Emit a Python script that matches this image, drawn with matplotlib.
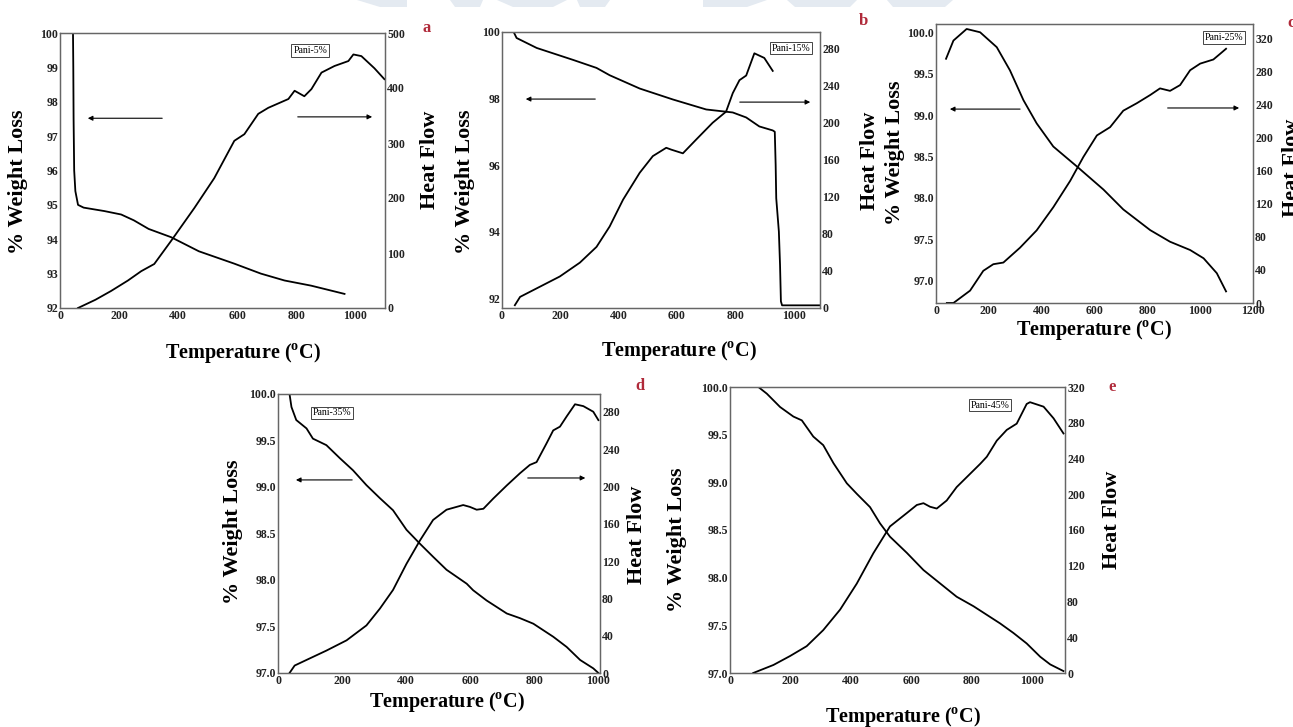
import matplotlib.pyplot as plt
from matplotlib.patches import Polygon

# ---------------- data ----------------
# panel a  (Pani-5%)
wa_T = [44, 45, 46, 48, 52, 61, 80, 150, 207, 250, 300, 376, 470, 590, 680, 760, 850, 963]
wa_W = [100, 99.0, 97.5, 96.0, 95.4, 95.0, 94.92, 94.82, 94.72, 94.55, 94.3, 94.06, 93.65, 93.29, 93.0, 92.8, 92.65, 92.41]
ha_T = [61, 120, 173, 230, 275, 319, 376, 455, 522, 590, 624, 671, 705, 773, 794, 827, 851, 885, 929, 976, 993, 1020, 1064, 1098]
ha_H = [0, 15, 31, 50, 67, 80, 122, 182, 236, 304, 316, 353, 364, 380, 395, 385, 398, 428, 440, 449, 461, 458, 436, 416]

# panel b  (Pani-15%)
wb_T = [40, 50, 119, 244, 324, 369, 472, 586, 700, 791, 837, 882, 928, 935, 938, 940, 949, 953, 956, 960, 1090]
wb_W = [100, 99.82, 99.52, 99.16, 98.92, 98.7, 98.3, 97.97, 97.67, 97.58, 97.43, 97.16, 97.04, 97.0, 96.0, 95.0, 94.0, 93.0, 91.9, 91.78, 91.78]
hb_T = [44, 62, 130, 198, 267, 324, 369, 415, 472, 517, 563, 580, 620, 666, 722, 768, 791, 814, 837, 865, 899, 928]
hb_H = [3, 12, 23, 34, 49, 66, 88, 117, 146, 164, 173, 171, 167, 182, 200, 212, 232, 246, 251, 275, 270, 256]

# panel c  (Pani-25%)
wc_T = [38, 66, 116, 167, 230, 280, 331, 381, 444, 533, 634, 709, 811, 886, 962, 1013, 1063, 1098]
wc_W = [99.68, 99.9, 100.04, 100.0, 99.82, 99.54, 99.18, 98.9, 98.62, 98.38, 98.1, 97.86, 97.61, 97.47, 97.37, 97.27, 97.09, 96.87]
hc_T = [41, 66, 129, 179, 217, 255, 318, 381, 444, 508, 558, 609, 659, 709, 760, 811, 848, 886, 924, 962, 1000, 1050, 1076, 1098]
hc_H = [0, 0, 15, 39, 47, 49, 67, 88, 116, 148, 177, 203, 213, 233, 242, 252, 260, 257, 264, 282, 290, 295, 302, 308]

# panel d  (Pani-35%)
wd_T = [36, 42, 57, 89, 109, 151, 193, 234, 276, 318, 359, 401, 443, 484, 526, 589, 609, 651, 714, 755, 797, 859, 901, 943, 984, 1000]
wd_W = [100, 99.86, 99.72, 99.63, 99.52, 99.45, 99.31, 99.18, 99.02, 98.88, 98.75, 98.54, 98.39, 98.25, 98.11, 97.96, 97.89, 97.78, 97.64, 97.59, 97.53, 97.39, 97.28, 97.14, 97.05, 97.0]
hd_T = [36, 52, 89, 151, 214, 276, 318, 359, 401, 443, 484, 526, 578, 599, 620, 641, 672, 714, 755, 786, 807, 838, 859, 880, 901, 927, 953, 984, 1000]
hd_H = [0, 8, 14, 24, 35, 51, 69, 89, 117, 142, 164, 175, 180, 178, 175, 176, 187, 201, 214, 223, 226, 246, 260, 264, 275, 288, 286, 280, 271]

# panel e  (Pani-45%)
we_T = [94, 122, 166, 210, 238, 276, 309, 343, 387, 420, 464, 497, 530, 586, 641, 696, 751, 807, 851, 895, 939, 983, 1028, 1061, 1105]
we_W = [100, 99.93, 99.79, 99.69, 99.65, 99.48, 99.39, 99.2, 98.99, 98.88, 98.74, 98.57, 98.43, 98.26, 98.08, 97.94, 97.8, 97.7, 97.61, 97.52, 97.42, 97.31, 97.17, 97.09, 97.02]
he_T = [77, 144, 199, 254, 309, 365, 420, 475, 530, 586, 619, 641, 663, 685, 718, 751, 796, 829, 851, 884, 917, 950, 983, 994, 1039, 1072, 1105]
he_H = [0, 9, 19, 30, 48, 71, 100, 134, 164, 179, 188, 190, 186, 184, 193, 208, 223, 234, 242, 260, 272, 279, 301, 303, 298, 285, 268]

sample_names = ['Pani-5%', 'Pani-15%', 'Pani-25%', 'Pani-35%', 'Pani-45%']
panel_letters = ['a', 'b', 'c', 'd', 'e']

W, H = 1293, 727
plt.rcParams['font.family'] = ['Liberation Serif', 'DejaVu Serif']
plt.rcParams['font.weight'] = 'bold'
plt.rcParams['mathtext.fontset'] = 'custom'
plt.rcParams['mathtext.rm'] = 'Liberation Serif:bold'
plt.rcParams['mathtext.bf'] = 'Liberation Serif:bold'

fig = plt.figure(figsize=(W / 100, H / 100), dpi=100)


def px(x, y):
    return x / W, 1 - y / H


def rect(l, r, t, b):
    return [l / W, 1 - b / H, (r - l) / W, (b - t) / H]


# faint watermark shapes along the top edge
for xs in [(357, 407, 380, 407), (450, 483, 455, 480), (497, 567, 513, 553), (577, 610, 580, 605),
           (703, 767, 703, 747), (787, 857, 795, 850), (887, 953, 893, 945)]:
    poly = Polygon([px(xs[0], 0), px(xs[1], 0), px(xs[3], 7), px(xs[2], 7)], closed=True,
                   transform=fig.transFigure, facecolor='#e4eaf1', edgecolor='none')
    fig.patches.append(poly)

panels = [
    dict(box=(60, 385, 33, 308), T1=wa_T, W1=wa_W, T2=ha_T, H2=ha_H,
         xlim=(0, 1100), xt=range(0, 1001, 200), ylim=(92, 100), yt=range(92, 101), yfmt='%d',
         y2lim=(0, 500), y2t=range(0, 501, 100),
         tag=(0.77, 0.935), arrows=[(0.323, 0.077, 0.69), (0.723, 0.969, 0.695)],
         wl=(18, 182), hf=(430, 160), xl=(243, 353), let=(427, 28)),
    dict(box=(502, 820, 32, 308), T1=wb_T, W1=wb_W, T2=hb_T, H2=hb_H,
         xlim=(0, 1090), xt=range(0, 1001, 200), ylim=(91.7, 100), yt=range(92, 101, 2), yfmt='%d',
         y2lim=(0, 298), y2t=range(0, 281, 40),
         tag=(0.909, 0.942), arrows=[(0.302, 0.066, 0.757), (0.739, 0.978, 0.746)],
         wl=(465, 182), hf=(870, 161), xl=(679, 351), let=(863, 21)),
    dict(box=(936, 1253, 24, 303), T1=wc_T, W1=wc_W, T2=hc_T, H2=hc_H,
         xlim=(0, 1200), xt=range(0, 1201, 200), ylim=(96.73, 100.1),
         yt=[97.0, 97.5, 98.0, 98.5, 99.0, 99.5, 100.0], yfmt='%.1f',
         y2lim=(0, 338), y2t=range(0, 321, 40),
         tag=(0.908, 0.953), arrows=[(0.274, 0.035, 0.695), (0.722, 0.965, 0.699)],
         wl=(895, 153), hf=(1292, 168), xl=(1094, 330), let=(1291, 23)),
    dict(box=(278, 600, 394, 673), T1=wd_T, W1=wd_W, T2=hd_T, H2=hd_H,
         xlim=(0, 1005), xt=range(0, 1001, 200), ylim=(97, 100),
         yt=[97.0, 97.5, 98.0, 98.5, 99.0, 99.5, 100.0], yfmt='%.1f',
         y2lim=(0, 299), y2t=range(0, 281, 40),
         tag=(0.168, 0.932), arrows=[(0.239, 0.047, 0.692), (0.767, 0.963, 0.699)],
         wl=(233, 532), hf=(637, 535), xl=(447, 702), let=(640, 386)),
    dict(box=(730, 1065, 387, 673), T1=we_T, W1=we_W, T2=he_T, H2=he_H,
         xlim=(0, 1110), xt=range(0, 1001, 200), ylim=(97, 100),
         yt=[97.0, 97.5, 98.0, 98.5, 99.0, 99.5, 100.0], yfmt='%.1f',
         y2lim=(0, 320), y2t=range(0, 321, 40),
         tag=(0.776, 0.937), arrows=[],
         wl=(677, 540), hf=(1112, 520), xl=(903, 717), let=(1112, 387)),
]

for i, p in enumerate(panels):
    ax = fig.add_axes(rect(*p['box']))
    ax2 = ax.twinx()
    ax.plot(p['T1'], p['W1'], color='black', lw=1.3)
    ax2.plot(p['T2'], p['H2'], color='black', lw=1.3)

    ax.set_xlim(*p['xlim'])
    ax.set_ylim(*p['ylim'])
    ax2.set_ylim(*p['y2lim'])
    ax.set_xticks(list(p['xt']))
    ax.set_yticks(list(p['yt']))
    ax.set_yticklabels([p['yfmt'] % v for v in p['yt']])
    ax2.set_yticks(list(p['y2t']))

    for a in (ax, ax2):
        a.tick_params(length=0, labelsize=8.5, pad=1.5, colors='#222222')
        for s in a.spines.values():
            s.set_color('#666666')
            s.set_linewidth(0.9)

    ax.text(p['tag'][0], p['tag'][1], sample_names[i], transform=ax.transAxes, fontsize=7,
            fontweight='normal', ha='center', va='center',
            bbox=dict(boxstyle='square,pad=0.2', facecolor='white', edgecolor='#444444', lw=0.7))

    for x0, x1, yy in p['arrows']:
        ax.annotate('', xy=(x1, yy), xytext=(x0, yy), xycoords='axes fraction',
                    arrowprops=dict(arrowstyle='-|>', color='black', lw=0.8, mutation_scale=7))

    fig.text(*px(*p['wl']), '% Weight Loss', rotation=90, fontsize=16, ha='center', va='center')
    fig.text(*px(*p['hf']), 'Heat Flow', rotation=90, fontsize=16, ha='center', va='center')
    fig.text(*px(*p['xl']), r'Temperature ($^{\mathrm{o}}$C)', fontsize=14.5, ha='center', va='center')
    fig.text(*px(*p['let']), panel_letters[i], fontsize=12, color='#b02a3a', ha='center', va='center')

fig.savefig('out.png', dpi=100)
